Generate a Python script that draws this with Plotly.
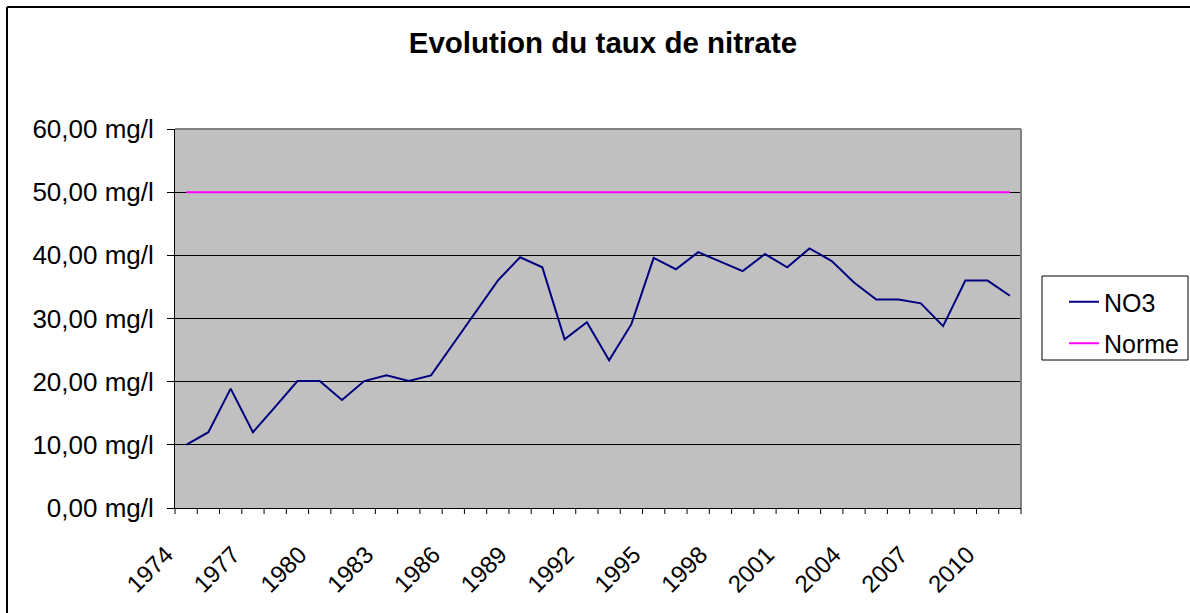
import plotly.graph_objects as go

years = list(range(1974, 2012))
no3 = [10.0, 12.0, 18.9, 12.0, 16.0, 20.1, 20.1, 17.1, 20.1, 21.0,
       20.1, 21.0, 26.0, 31.0, 36.0, 39.7, 38.1, 26.7, 29.4, 23.4,
       29.1, 39.6, 37.8, 40.5, 39.0, 37.5, 40.2, 38.1, 41.1, 39.1,
       35.7, 33.0, 33.0, 32.4, 28.8, 36.0, 36.0, 33.6]
norme = [50.0] * len(years)
tick_years = [1974, 1977, 1980, 1983, 1986, 1989, 1992, 1995, 1998, 2001, 2004, 2007, 2010]
tick_labels = [str(y) for y in tick_years]
boundaries = [y - 0.5 for y in years] + [years[-1] + 0.5]

FONT = "Arial, Liberation Sans, sans-serif"

fig = go.Figure()
fig.add_trace(go.Scatter(x=years, y=no3, mode="lines", name="NO3", legendgroup="a",
                         line=dict(color="#000080", width=2)))
fig.add_trace(go.Scatter(x=years, y=norme, mode="lines", name="Norme", legendgroup="b",
                         line=dict(color="#FF00FF", width=2)))

L, R, T, B = 175, 169, 129, 105
W, H = 1190, 613
pw, ph = W - L - R, H - T - B

def px_x(p):
    return (p - L) / pw

def px_y(p):
    return (H - B - p) / ph

xr = [years[0] - 0.5, years[-1] + 0.5]

shapes = [
    dict(type="line", xref="paper", yref="paper", x0=1, x1=1, y0=0, y1=1,
         line=dict(color="#808080", width=2), layer="above"),
    dict(type="line", xref="paper", yref="paper", x0=0, x1=1, y0=1, y1=1,
         line=dict(color="#808080", width=2), layer="above"),
    dict(type="rect", xref="paper", yref="paper", x0=px_x(1042), x1=px_x(1188),
         y0=px_y(360), y1=px_y(276), line=dict(color="black", width=1),
         fillcolor="white", layer="below"),
    dict(type="line", xref="paper", yref="paper", x0=px_x(7), x1=px_x(1200),
         y0=px_y(7), y1=px_y(7), line=dict(color="black", width=2)),
    dict(type="line", xref="paper", yref="paper", x0=px_x(7), x1=px_x(7),
         y0=px_y(7), y1=px_y(620), line=dict(color="black", width=2)),
]
# category boundary tick marks on the x axis (paper refs so they are not clipped)
for bnd in boundaries:
    xp = (bnd - xr[0]) / (xr[1] - xr[0])
    shapes.append(dict(type="line", xref="paper", yref="paper", x0=xp, x1=xp,
                       y0=0, y1=-6 / ph, line=dict(color="black", width=1),
                       layer="above"))

fig.update_layout(
    width=W, height=H,
    margin=dict(l=L, r=R, t=T, b=B, pad=0, autoexpand=False),
    paper_bgcolor="white",
    plot_bgcolor="#C0C0C0",
    separators=", ",
    font=dict(family=FONT, color="black", size=24),
    title=dict(text="<b>Evolution du taux de nitrate</b>", x=603 / W, xanchor="center",
               y=1 - 43 / H, yanchor="middle", font=dict(size=29.5, family=FONT)),
    showlegend=True,
    legend=dict(x=px_x(1064), y=px_y(279), xanchor="left", yanchor="top",
                bgcolor="rgba(0,0,0,0)", borderwidth=0,
                traceorder="grouped", tracegroupgap=6,
                font=dict(size=25, family=FONT)),
    xaxis=dict(range=xr, tickmode="array", tickvals=tick_years,
               ticktext=tick_labels, tickangle=-45, ticks="", showgrid=False,
               zeroline=False, showline=True, linecolor="black", linewidth=1,
               ticklabelstandoff=22, ticklabelshift=-20, automargin=False,
               tickfont=dict(size=24, family=FONT)),
    yaxis=dict(range=[0, 60], dtick=10, tick0=0, tickformat=".2f", ticksuffix=" mg/l",
               ticks="outside", ticklen=7, tickcolor="black", showgrid=True,
               gridcolor="black", gridwidth=1, zeroline=False, showline=True,
               linecolor="black", linewidth=1, ticklabelstandoff=8, automargin=False,
               tickfont=dict(size=26, family=FONT)),
    shapes=shapes,
)

fig.write_html("out.html", config={"displayModeBar": False},
               post_script="document.body.style.margin='0px';")
